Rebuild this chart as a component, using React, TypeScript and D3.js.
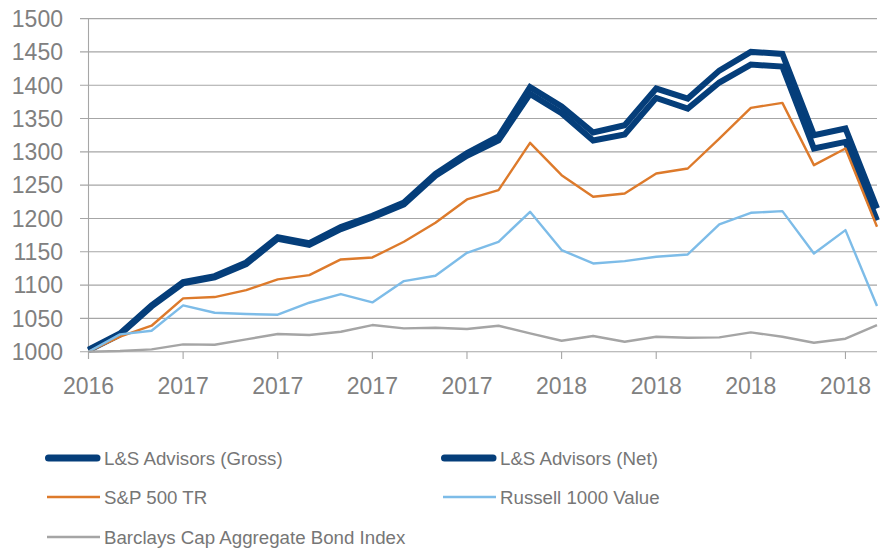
import React from 'react';
import * as d3 from 'd3';

// monthly observations, Nov 2016 - Dec 2018
const months = [
  '2016-11', '2016-12', '2017-01', '2017-02', '2017-03', '2017-04', '2017-05',
  '2017-06', '2017-07', '2017-08', '2017-09', '2017-10', '2017-11', '2017-12',
  '2018-01', '2018-02', '2018-03', '2018-04', '2018-05', '2018-06', '2018-07',
  '2018-08', '2018-09', '2018-10', '2018-11', '2018-12',
];
// label shown every third month
const tickMonths = ['2016-11', '2017-02', '2017-05', '2017-08', '2017-11', '2018-02', '2018-05', '2018-08', '2018-11'];
const tickLabels = ['2016', '2017', '2017', '2017', '2017', '2018', '2018', '2018', '2018'];

const gross = [1003, 1027.5, 1069.5, 1104.5, 1113.5, 1134, 1172, 1163, 1187, 1204, 1224, 1267, 1298, 1323,
  1397, 1368, 1329, 1340, 1395, 1380, 1422, 1450, 1447, 1325, 1335, 1215];
const net = [1002, 1026, 1068, 1102.5, 1111.5, 1131.5, 1169.5, 1160.5, 1184, 1201.5, 1221, 1264, 1294, 1317,
  1387, 1358, 1317, 1326, 1381, 1365, 1404, 1431, 1428, 1305, 1315, 1197];
const sp500 = [1000, 1022.5, 1039, 1080, 1082, 1092.5, 1108.5, 1115, 1138.5, 1141.5, 1165, 1193.5, 1228.5, 1242.5,
  1313.5, 1265, 1232.5, 1237.5, 1267.5, 1275, 1320, 1366, 1373.5, 1280, 1305, 1187.5];
const russell = [1000, 1026, 1031.5, 1069.5, 1058.5, 1056.5, 1055.5, 1073.5, 1086.5, 1074, 1106, 1114, 1148.5, 1165,
  1210, 1152.5, 1132.5, 1136, 1142.5, 1146, 1191, 1208.5, 1211, 1147.5, 1182.5, 1068.5];
const barclays = [1000, 1001, 1003.5, 1011, 1010.5, 1018.5, 1026.5, 1025, 1030, 1040, 1035, 1036, 1034, 1039,
  1027.5, 1016.5, 1023.5, 1015, 1022.5, 1021, 1021.5, 1029, 1022.5, 1013.5, 1019.5, 1040];

const seriesNames = ['L&S Advisors (Gross)', 'L&S Advisors (Net)', 'S&P 500 TR', 'Russell 1000 Value', 'Barclays Cap Aggregate Bond Index'];

const W = 882, H = 549;
const axisColor = '#a6a6a6';
const textColor = '#808080';

export default function App() {
  const x = d3.scalePoint<string>().domain(months).range([88.5, 877]);
  const y = d3.scaleLinear().domain([1000, 1500]).range([351.7, 18.6]);

  const line = d3.line<number>()
    .x((d, i) => x(months[i]) as number)
    .y(d => y(d));

  const series = [
    { name: seriesNames[0], values: gross, color: '#053e7a', width: 6, thick: true },
    { name: seriesNames[1], values: net, color: '#053e7a', width: 6, thick: true },
    { name: seriesNames[2], values: sp500, color: '#dd7a2b', width: 2.4 },
    { name: seriesNames[3], values: russell, color: '#7dbce8', width: 2.4 },
    { name: seriesNames[4], values: barclays, color: '#a5a5a5', width: 2.4 },
  ];

  const legendPos = [
    { x: 45, y: 458 }, { x: 441, y: 458 },
    { x: 45, y: 497 }, { x: 441, y: 497 },
    { x: 45, y: 537 },
  ];

  const x0 = x(months[0]) as number;
  const xEnd = 877;

  return (
    <svg width={W} height={H} style={{ position: 'fixed', left: 0, top: 0, background: '#fff' }}
      fontFamily="'Liberation Sans', Arial, sans-serif">
      {/* gridlines + y ticks */}
      {y.ticks(10).map(t => (
        <g key={t}>
          <line x1={80} x2={xEnd} y1={y(t)} y2={y(t)} stroke={axisColor} strokeWidth={1.1} />
          <text x={63} y={y(t)} dy="0.36em" textAnchor="end" fontSize={23} fill={textColor}>{t}</text>
        </g>
      ))}
      {/* y axis line */}
      <line x1={x0} x2={x0} y1={y(1500)} y2={359} stroke={axisColor} strokeWidth={1.1} />
      {/* x ticks */}
      {tickMonths.map((m, i) => (
        <g key={i}>
          <line x1={x(m)} x2={x(m)} y1={y(1000)} y2={359} stroke={axisColor} strokeWidth={1.1} />
          <text x={x(m)} y={394} textAnchor="middle" fontSize={23} fill={textColor}>{tickLabels[i]}</text>
        </g>
      ))}

      {/* series */}
      {series.map(s => (
        <path key={s.name} d={line(s.values) || ''} fill="none" stroke={s.color} strokeWidth={s.width}
          strokeLinejoin={s.thick ? 'miter' : 'round'} />
      ))}

      {/* legend */}
      {series.map((s, i) => (
        <g key={'lg' + i} transform={`translate(${legendPos[i].x},${legendPos[i].y})`}>
          <line x1={s.thick ? 3.5 : 2} x2={s.thick ? 52 : 55} y1={0} y2={0} stroke={s.color}
            strokeWidth={s.thick ? 7 : 2.4} strokeLinecap={s.thick ? 'round' : 'butt'} />
          <text x={59} y={0} dy="0.36em" fontSize={18.7} fill="#767676">{s.name}</text>
        </g>
      ))}
    </svg>
  );
}
